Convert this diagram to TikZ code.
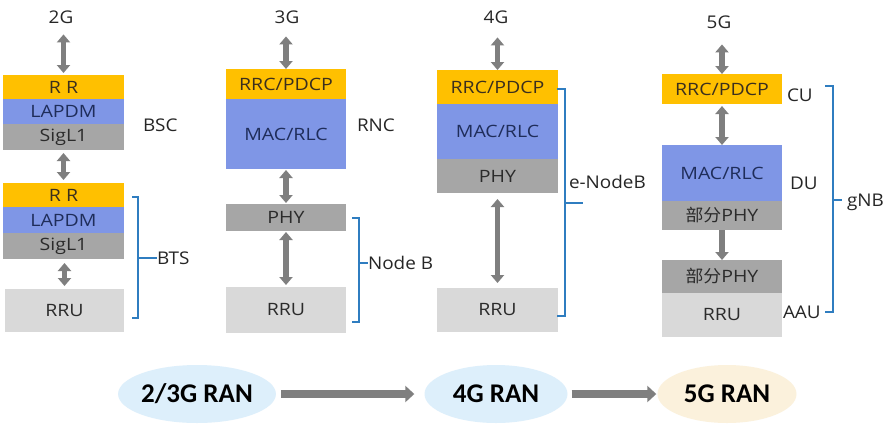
\documentclass[tikz,border=0pt]{standalone}
\usepackage{fontspec}
\setmainfont{Open Sans}
\newfontfamily\boxfont[FakeStretch=1.15]{Open Sans}
\newfontfamily\lblfont[FakeStretch=1.08]{Open Sans}
\newfontfamily\cjk[FakeStretch=1.05]{Noto Sans CJK SC}
\newfontfamily\ranfont{Carlito}
\usetikzlibrary{arrows.meta,shapes.geometric}
\definecolor{cOrange}{HTML}{FFC000}
\definecolor{cBlue}{HTML}{7F96E6}
\definecolor{cDGray}{HTML}{A6A6A6}
\definecolor{cLGray}{HTML}{D9D9D9}
\definecolor{cArrow}{HTML}{7F7F7F}
\definecolor{cBracket}{HTML}{2F7DC0}
\definecolor{cOrText}{HTML}{3B2F1E}
\definecolor{cBlText}{HTML}{1F2D5A}
\definecolor{cGrText}{HTML}{2B2B2B}
\definecolor{cEllBlue}{HTML}{DDEFFB}
\definecolor{cEllCream}{HTML}{FBF1DC}
\definecolor{cLabel}{HTML}{262626}
\begin{document}
\begin{tikzpicture}[x=1pt,y=-1pt,
  layer/.style={inner sep=0pt,outer sep=0pt,font=\boxfont\fontsize{17}{17}\selectfont},
  orb/.style={layer,fill=cOrange,text=cOrText},
  blb/.style={layer,fill=cBlue,text=cBlText},
  dgb/.style={layer,fill=cDGray,text=cGrText},
  lgb/.style={layer,fill=cLGray,text=cGrText},
  lbl/.style={inner sep=0pt,outer sep=0pt,text=cLabel,font=\lblfont\fontsize{17.5}{17.5}\selectfont},
  sidelbl/.style={lbl,anchor=west},
  dar/.style={draw=cArrow,line width=5.5pt,{Triangle[width=13pt,length=8pt]}-{Triangle[width=13pt,length=8pt]}},
  sar/.style={draw=cArrow,line width=5.5pt,-{Triangle[width=13pt,length=8pt]}},
  bar/.style={draw=cArrow,line width=8pt,-{Triangle[width=16pt,length=9pt]}},
  brk/.style={draw=cBracket,line width=1.3pt},
  ell/.style={ellipse,inner sep=0pt,minimum height=58pt,font=\ranfont\bfseries\fontsize{27}{27}\selectfont,text=black}
]
\useasboundingbox (0,0) rectangle (892,426);
\fill[white] (0,0) rectangle (892,426);

% ---------- 2G ----------
\node[lbl] (g2) at (61,17) {2G};
\node[orb,minimum width=121pt,minimum height=24pt] (c1rr) at (63.5,87) {R R};
\node[blb,minimum width=121pt,minimum height=25pt] (c1lap) at (63.5,111.5) {LAPDM};
\node[dgb,minimum width=121pt,minimum height=26pt] (c1sig) at (63.5,137) {SigL1};
\node[orb,minimum width=121pt,minimum height=24pt] (c1rr2) at (63.5,195) {R R};
\node[blb,minimum width=121pt,minimum height=26pt] (c1lap2) at (63.5,220) {LAPDM};
\node[dgb,minimum width=121pt,minimum height=26pt] (c1sig2) at (63.5,246) {SigL1};
\node[lgb,minimum width=119pt,minimum height=43pt] (c1rru) at (64.5,310.5) {RRU};
\draw[dar,shorten <=11pt,shorten >=2pt] (c1rr.north |- g2.south) -- (c1rr.north);
\draw[dar,shorten <=3pt,shorten >=3pt] (c1sig.south) -- (c1rr2.north);
\draw[dar,shorten <=4pt,shorten >=3pt] (c1sig2.south -| c1rru.north) -- (c1rru.north);
\node[sidelbl] (bsc) at (143,125) {BSC};
\node[sidelbl] (bts) at (157,258) {BTS};
\draw[brk] (132,197) -- (138,197) -- (138,318) -- (132,318);
\draw[brk] (138,258) -- (bts.west);

% ---------- 3G ----------
\node[lbl] (g3) at (287,17) {3G};
\node[orb,minimum width=120pt,minimum height=30pt] (c2rrc) at (286,84) {RRC/PDCP};
\node[blb,minimum width=120pt,minimum height=70pt] (c2mac) at (286,134) {MAC/RLC};
\node[dgb,minimum width=120pt,minimum height=27pt] (c2phy) at (286,217.5) {PHY};
\node[lgb,minimum width=120pt,minimum height=46pt] (c2rru) at (286,310) {RRU};
\draw[dar,shorten <=13pt] (c2rrc.north |- g3.south) -- (c2rrc.north);
\draw[dar,shorten <=1pt,shorten >=1pt] (c2mac.south) -- (c2phy.north);
\draw[dar,shorten <=1pt,shorten >=2pt] (c2phy.south) -- (c2rru.north);
\node[sidelbl] (rnc) at (357,125) {RNC};
\node[sidelbl] (nodeb) at (368,263) {Node B};
\draw[brk] (352,218) -- (359,218) -- (359,322) -- (352,322);
\draw[brk] (359,263) -- (nodeb.west);

% ---------- 4G ----------
\node[lbl] (g4) at (496,17) {4G};
\node[orb,minimum width=121pt,minimum height=34pt] (c3rrc) at (497.5,87) {RRC/PDCP};
\node[blb,minimum width=121pt,minimum height=55pt] (c3mac) at (497.5,131.5) {MAC/RLC};
\node[dgb,minimum width=121pt,minimum height=34pt] (c3phy) at (497.5,176) {PHY};
\node[lgb,minimum width=121pt,minimum height=44pt] (c3rru) at (497.5,310) {RRU};
\draw[dar,shorten <=14pt] (c3rrc.north |- g4.south) -- (c3rrc.north);
\draw[dar,shorten <=6pt,shorten >=5pt] (c3phy.south) -- (c3rru.north);
\node[sidelbl] (enodeb) at (569,182) {e-NodeB};
\coordinate (enbtick) at (583,203);
\draw[brk] (557,89) -- (565,89) -- (565,316) -- (557,316);
\draw[brk] (565,203) -- (enbtick);

% ---------- 5G ----------
\node[lbl] (g5) at (719,22) {5G};
\node[orb,minimum width=120pt,minimum height=30pt] (c4rrc) at (722,89) {RRC/PDCP};
\node[blb,minimum width=120pt,minimum height=56pt] (c4mac) at (722,173) {MAC/RLC};
\node[dgb,minimum width=120pt,minimum height=29pt] (c4pphy) at (722,215.5) {{\cjk 部分}PHY};
\node[dgb,minimum width=120pt,minimum height=33pt] (c4pphy2) at (722,276.5) {{\cjk 部分}PHY};
\node[lgb,minimum width=120pt,minimum height=44pt] (c4rru) at (722,315) {RRU};
\draw[dar,shorten <=16pt] (c4rrc.north |- g5.south) -- (c4rrc.north);
\draw[dar,shorten <=2pt] (c4rrc.south) -- (c4mac.north);
\draw[sar] (c4pphy.south) -- (c4pphy2.north);
\node[sidelbl] (cu) at (787,95) {CU};
\node[sidelbl] (du) at (790,183) {DU};
\node[sidelbl] (aau) at (783,312) {AAU};
\node[sidelbl] (gnb) at (847,202) {gNB};
\draw[brk] (825,86) -- (833,86) -- (833,312) -- (825,312);
\draw[brk] (833,200) -- (842,200);

% ---------- bottom ----------
\node[ell,fill=cEllBlue,minimum width=141pt] (e1) at (197,394) {2/3G RAN};
\node[ell,fill=cEllBlue,minimum width=143pt] (e2) at (496,394) {4G RAN};
\node[ell,fill=cEllCream,minimum width=139pt] (e3) at (727,394) {5G RAN};
\draw[bar,shorten <=5pt,shorten >=10pt] (e1.east) -- (e2.west);
\draw[bar,shorten <=4pt,shorten >=1pt] (e2.east) -- (e3.west);
\end{tikzpicture}
\end{document}
